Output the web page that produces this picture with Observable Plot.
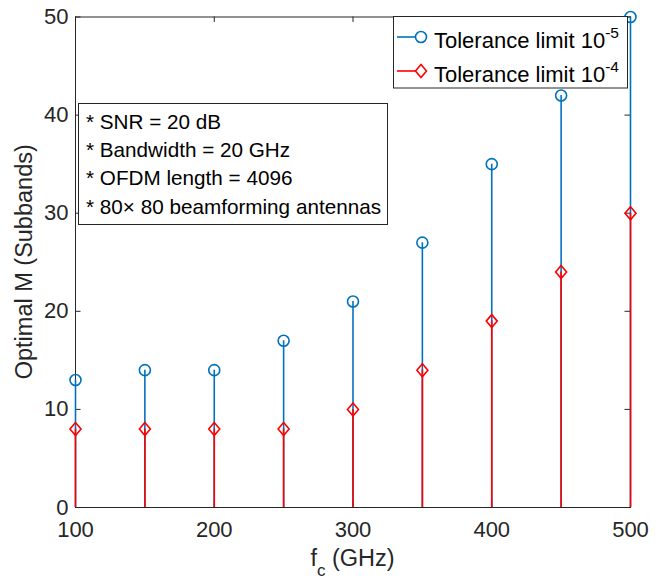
<!DOCTYPE html>
<html><head><meta charset="utf-8">
<script src="https://cdn.jsdelivr.net/npm/d3@7"></script>
<script src="https://cdn.jsdelivr.net/npm/@observablehq/plot@0.6"></script>
<style>body{margin:0;background:#fff}</style>
</head><body><div id="chart"></div>
<script>
// ---- data ----
const fc = [100, 150, 200, 250, 300, 350, 400, 450, 500];
const tol5 = [13, 14, 14, 17, 21, 27, 35, 42, 50];
const tol4 = [8, 8, 8, 8, 10, 14, 19, 24, 30];
const xTicks = [100, 200, 300, 400, 500];
const yTicks = [0, 10, 20, 30, 40, 50];
const seriesLabels = ["Tolerance limit 10", "Tolerance limit 10"];
const seriesExps = ["-5", "-4"];
const notes = ["* SNR = 20 dB", "* Bandwidth = 20 GHz", "* OFDM length = 4096", "* 80\u00d7 80 beamforming antennas"];

const blue = "#0072BD", red = "#FF0000", axisCol = "#262626";
const font = "'Liberation Sans', Arial, Helvetica, sans-serif";

const d5 = fc.map((x, i) => ({x, v: tol5[i]}));
const d4 = fc.map((x, i) => ({x, v: tol4[i]}));

const diamondSym = {draw(ctx) { const w = 5.5, h = 6.5; ctx.moveTo(0, -h); ctx.lineTo(w, 0); ctx.lineTo(0, h); ctx.lineTo(-w, 0); ctx.closePath(); }};

const W = 665, H = 578, mL = 75, mR = 35, mT = 16.5, mB = 71;
const tx = 400 / (W - mL - mR) * 5.5;   // tick length in x units
const ty = 50 / (H - mT - mB) * 5.5;    // tick length in y units

const plot = Plot.plot({
  width: W, height: H,
  marginLeft: mL, marginRight: mR, marginTop: mT, marginBottom: mB,
  style: {fontFamily: font, fontSize: "22px", color: axisCol, background: "#fff"},
  x: {domain: [100, 500], ticks: xTicks, tickSize: 0, tickPadding: 14, label: null},
  y: {domain: [0, 50], ticks: yTicks, tickSize: 0, tickPadding: 7, label: null},
  marks: [
    Plot.ruleX(xTicks, {x: d => d, y1: 0, y2: ty, stroke: axisCol, strokeWidth: 1}),
    Plot.ruleX(xTicks, {x: d => d, y1: 50, y2: 50 - ty, stroke: axisCol, strokeWidth: 1}),
    Plot.ruleY(yTicks, {y: d => d, x1: 100, x2: 100 + tx, stroke: axisCol, strokeWidth: 1}),
    Plot.ruleY(yTicks, {y: d => d, x1: 500, x2: 500 - tx, stroke: axisCol, strokeWidth: 1}),
    Plot.frame({stroke: axisCol, strokeWidth: 1}),
    Plot.ruleX(d5, {x: "x", y1: 0, y2: "v", stroke: blue, strokeWidth: 1.6}),
    Plot.dot(d5, {x: "x", y: "v", r: 5.5, stroke: blue, strokeWidth: 1.6, fill: "none"}),
    Plot.ruleX(d4, {x: "x", y1: 0, y2: "v", stroke: red, strokeWidth: 1.6}),
    Plot.dot(d4, {x: "x", y: "v", r: 5.5, symbol: diamondSym, stroke: red, strokeWidth: 1.6, fill: "none"})
  ]
});
document.getElementById("chart").appendChild(plot);

const svg = d3.select(plot);
svg.selectAll("g[aria-label='x-axis tick label'], g[aria-label='y-axis tick label']")
  .attr("font-size", 22).attr("fill", axisCol);
svg.selectAll("g[aria-label='x-axis tick label'] text, g[aria-label='y-axis tick label'] text")
  .style("font-size", "22px").attr("fill", axisCol);

// axis labels
const xl = svg.append("text").attr("x", (mL + W - mR) / 2).attr("y", 566)
  .attr("text-anchor", "middle").attr("fill", axisCol).style("font-size", "23.5px").style("font-family", font);
xl.append("tspan").text("f");
xl.append("tspan").attr("dy", 10).style("font-size", "17px").text("c");
xl.append("tspan").attr("dy", -10).text(" (GHz)");

svg.append("text").attr("transform", `translate(32,${(mT + H - mB) / 2}) rotate(-90)`)
  .attr("text-anchor", "middle").attr("fill", axisCol).style("font-size", "23.5px").style("font-family", font)
  .text("Optimal M (Subbands)");

// legend
const lg = svg.append("g");
lg.append("rect").attr("x", 393.5).attr("y", 16.5).attr("width", 234).attr("height", 71.5)
  .attr("fill", "#fff").attr("stroke", axisCol).attr("stroke-width", 1);
const rows = [{c: blue, y: 37, base: 48, sym: "circle"}, {c: red, y: 71, base: 82, sym: "diamond"}];
rows.forEach((r, i) => {
  lg.append("line").attr("x1", 397).attr("x2", 421).attr("y1", r.y).attr("y2", r.y)
    .attr("stroke", r.c).attr("stroke-width", 1.6);
  if (r.sym === "circle") {
    lg.append("circle").attr("cx", 421).attr("cy", r.y).attr("r", 5.5).attr("fill", "#fff")
      .attr("stroke", r.c).attr("stroke-width", 1.6);
  } else {
    lg.append("path").attr("d", `M421,${r.y - 6.5}L426.5,${r.y}L421,${r.y + 6.5}L415.5,${r.y}Z`).attr("fill", "#fff")
      .attr("stroke", r.c).attr("stroke-width", 1.6);
  }
  const t = lg.append("text").attr("x", 434).attr("y", r.base).attr("fill", "#000")
    .attr("text-anchor", "start").style("font-size", "22px").style("font-family", font);
  t.append("tspan").text(seriesLabels[i]);
  t.append("tspan").attr("dy", -10).style("font-size", "15.5px").text(seriesExps[i]);
});

// annotation box
const nb = svg.append("g");
nb.append("rect").attr("x", 78.5).attr("y", 103.5).attr("width", 309).attr("height", 121)
  .attr("fill", "#fff").attr("stroke", axisCol).attr("stroke-width", 1);
notes.forEach((s, i) => {
  nb.append("text").attr("x", 86).attr("y", 129 + i * 28.2).attr("fill", "#000")
    .attr("text-anchor", "start").style("font-size", "20.7px").style("font-family", font).text(s);
});
</script>
</body></html>
